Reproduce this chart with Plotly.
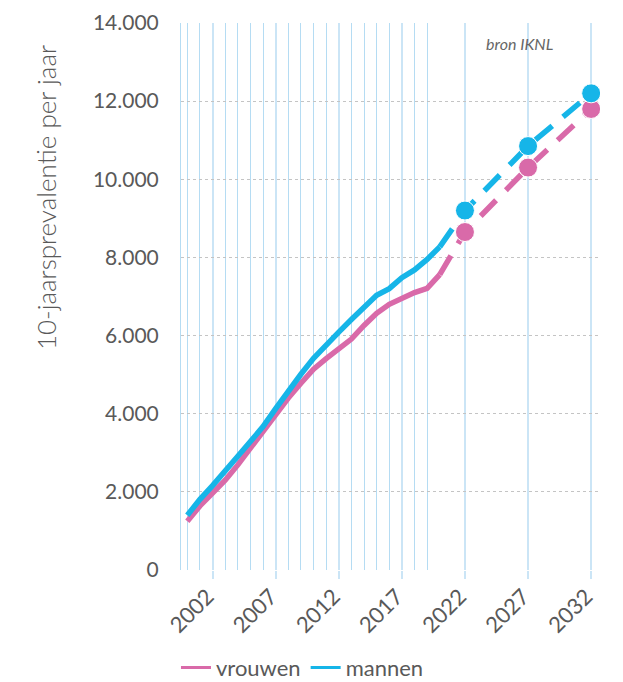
import plotly.graph_objects as go

# jaren met gemeten waarden
years_hist = list(range(2000, 2021))
vrouwen_hist = [1250, 1640, 1970, 2300, 2690, 3120, 3550, 3990, 4400, 4780, 5140,
                5410, 5640, 5910, 6260, 6570, 6800, 6960, 7100, 7210, 7560]
mannen_hist = [1400, 1810, 2160, 2510, 2910, 3290, 3670, 4130, 4580, 5010, 5420,
               5770, 6090, 6410, 6720, 7030, 7200, 7480, 7680, 7950, 8270]

# prognose
years_proj = [2020, 2022, 2027, 2032]
vrouwen_proj = [7560, 8650, 10300, 11800]
mannen_proj = [8270, 9200, 10850, 12200]

x_ticks = [2002, 2007, 2012, 2017, 2022, 2027, 2032]
x_minor = [y for y in range(2000, 2020) if y not in x_ticks]
y_ticks = list(range(0, 14001, 2000))

roze = '#d96aa9'
blauw = '#16b5e8'
grijs = '#595959'
font = 'Lato'

fig = go.Figure()

for naam, kleur, hist, proj in [('vrouwen', roze, vrouwen_hist, vrouwen_proj),
                                ('mannen', blauw, mannen_hist, mannen_proj)]:
    fig.add_trace(go.Scatter(
        x=years_hist, y=hist, name=naam, legendgroup=naam, showlegend=False,
        mode='lines', line=dict(color=kleur, width=5.5),
    ))
    fig.add_trace(go.Scatter(
        x=years_proj, y=proj, name=naam, legendgroup=naam, showlegend=False,
        mode='lines+markers',
        line=dict(color=kleur, width=5.5, dash='22px,14px'),
        marker=dict(color=kleur, opacity=1, size=[0] + [19] * (len(proj) - 1)),
    ))

# alleen voor de legenda
for naam, kleur in [('vrouwen', roze), ('mannen', blauw)]:
    fig.add_trace(go.Scatter(x=[None], y=[None], name=naam, legendgroup=naam,
                             mode='lines', line=dict(color=kleur, width=3)))

# pagina heeft 8px body-marge, dus figuur iets kleiner dan het venster
fig.update_layout(
    width=615, height=674,
    margin=dict(l=173, r=23, t=15, b=112, autoexpand=False),
    paper_bgcolor='white', plot_bgcolor='white',
    separators=',.',
    font=dict(family=font, color=grijs, size=19),
    showlegend=True,
    legend=dict(orientation='h', x=-0.012, xanchor='left', y=-0.14, yanchor='top',
                font=dict(size=22, color=grijs), traceorder='normal',
                itemwidth=30, tracegroupgap=0),
    annotations=[
        dict(text='10-jaarsprevalentie per jaar', textangle=-90,
             xref='paper', yref='paper', x=-0.322, y=0.68,
             xanchor='center', yanchor='middle',
             showarrow=False, font=dict(size=26, color=grijs, weight=300)),
        dict(text='<i>bron IKNL</i>', xref='paper', yref='paper',
             x=0.809, y=0.962, xanchor='center', yanchor='middle',
             showarrow=False, font=dict(size=16, color='#666666')),
    ],
)

fig.update_xaxes(
    range=[1999.5, 2032.7], automargin=False,
    tickvals=x_ticks, ticktext=[str(t) for t in x_ticks],
    tickangle=-45, tickfont=dict(size=22, color=grijs),
    ticklabelshift=-5, ticklabelstandoff=-4,
    ticks='outside', ticklen=8, tickwidth=2, tickcolor='#cbe5f6',
    showgrid=True, gridcolor='#cbe5f6', gridwidth=2,
    minor=dict(tickvals=x_minor, showgrid=True, gridcolor='#b5dcf3', gridwidth=1, ticks=''),
    zeroline=False, showline=False,
)

fig.update_yaxes(
    range=[0, 14000], automargin=False, tickvals=y_ticks, tickformat=',d',
    tickfont=dict(size=21, color=grijs),
    showgrid=True, gridcolor='#c4c4c4', griddash='dot', gridwidth=1,
    zeroline=False, showline=True, linecolor='#b5dcf3', linewidth=1,
    ticks='', ticklabelstandoff=17,
)

fig.write_html("out.html")
